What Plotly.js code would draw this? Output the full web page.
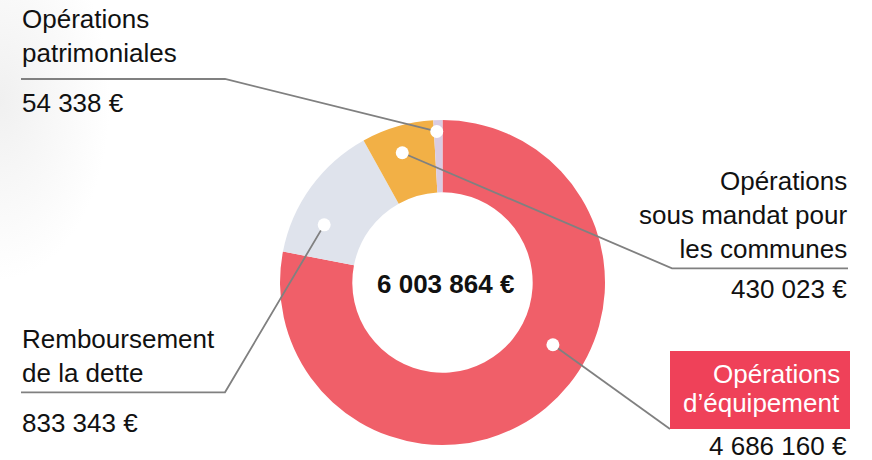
<!DOCTYPE html>
<html>
<head>
<meta charset="utf-8">
<script src="https://cdn.plot.ly/plotly-3.0.1.min.js"></script>
<style>
  html, body { margin: 0; padding: 0; background: #ffffff; }
  #chart {
    width: 872px; height: 460px;
    background: radial-gradient(ellipse 110px 180px at 0px 100px, #f0f0f0 0%, #f7f7f7 45%, rgba(255,255,255,0) 100%), #ffffff;
  }
</style>
</head>
<body>
<div id="chart"></div>
<script>
// ---------- DATA ----------
const categories = [
  "Opérations d’équipement",
  "Remboursement de la dette",
  "Opérations sous mandat pour les communes",
  "Opérations patrimoniales"
];
const values = [4686160, 833343, 430023, 54338];
const labelLines = [
  ["Opérations", "d’équipement"],
  ["Remboursement", "de la dette"],
  ["Opérations", "sous mandat pour", "les communes"],
  ["Opérations", "patrimoniales"]
];
const sliceColors = ["#F05F69", "#DFE3EC", "#F2B046", "#D9CCE3"];

// ---------- LAYOUT / STYLE ----------
const W = 872, H = 460;
const X = px => px / W;
const Y = py => 1 - py / H;
const pieBox = { x0: 280, x1: 605, y0: 120, y1: 445 };
const cx = (pieBox.x0 + pieBox.x1) / 2, cy = (pieBox.y0 + pieBox.y1) / 2;
const R = (pieBox.x1 - pieBox.x0) / 2;
const FONT = "Liberation Sans, Arial, Helvetica, sans-serif";
const LINE = "#808080";
const TXT = "#111111";

// callout geometry: where the dot sits within its slice (t along the sweep, rf of outer radius)
const callouts = [
  { t: 0.425, rf: 0.78, elbow: [670, 429], end: null, x: 841, anchor: "right",
    lineYs: [373.5, 402.8], box: [670, 351, 850, 429], valueX: 848, valueAnchor: "right", valueY: 445.5 },
  { t: 0.30, rf: 0.81, elbow: [225, 392.3], end: [21, 392.3], x: 21, anchor: "left",
    mid: 355.5, valueX: 21, valueAnchor: "left", valueY: 422.5 },
  { t: 0.458, rf: 0.836, elbow: [672, 268.3], end: [848, 268.3], x: 848, anchor: "right",
    mid: 214.6, valueX: 848, valueAnchor: "right", valueY: 289 },
  { t: 0.33, rf: 0.93, elbow: [225, 79], end: [21, 79], x: 21, anchor: "left",
    mid: 36, valueX: 21, valueAnchor: "left", valueY: 103 }
];

const fmt = v => String(v).replace(/\B(?=(\d{3})+(?!\d))/g, " ") + " €";
const total = values.reduce((a, b) => a + b, 0);

const shapes = [];
const annotations = [];
const dots = [];
let cum = 0;
values.forEach((v, i) => {
  const c = callouts[i];
  const ang = (cum + c.t * v) / total * 2 * Math.PI;
  cum += v;
  const dx = cx + c.rf * R * Math.sin(ang);
  const dy = cy - c.rf * R * Math.cos(ang);
  let path = `M ${X(dx)} ${Y(dy)} L ${X(c.elbow[0])} ${Y(c.elbow[1])}`;
  if (c.end) path += ` L ${X(c.end[0])} ${Y(c.end[1])}`;
  shapes.push({ type: "path", xref: "paper", yref: "paper", path: path,
    line: { color: LINE, width: 1.8 } });
  dots.push({ type: "circle", xref: "paper", yref: "paper",
    xsizemode: "pixel", ysizemode: "pixel", xanchor: X(dx), yanchor: Y(dy),
    x0: -6.5, x1: 6.5, y0: -6.5, y1: 6.5, fillcolor: "#ffffff", line: { width: 0 } });
  if (c.box) {
    shapes.push({ type: "rect", xref: "paper", yref: "paper",
      x0: X(c.box[0]), x1: X(c.box[2]), y0: Y(c.box[3]), y1: Y(c.box[1]),
      fillcolor: "#EF4159", line: { width: 0 } });
    labelLines[i].forEach((ln, k) => {
      annotations.push({ xref: "paper", yref: "paper", x: X(c.x), y: Y(c.lineYs[k]),
        xanchor: c.anchor, yanchor: "middle", showarrow: false, borderpad: 0,
        text: ln, font: { family: FONT, size: 26, color: "#ffffff" } });
    });
  } else {
    annotations.push({ xref: "paper", yref: "paper", x: X(c.x), y: Y(c.mid),
      xanchor: c.anchor, yanchor: "middle", align: c.anchor, showarrow: false, borderpad: 0,
      text: labelLines[i].join("<br>"), font: { family: FONT, size: 26, color: TXT } });
  }
  annotations.push({ xref: "paper", yref: "paper", x: X(c.valueX), y: Y(c.valueY),
    xanchor: c.valueAnchor, yanchor: "middle", showarrow: false, borderpad: 0,
    text: fmt(v), font: { family: FONT, size: 26, color: TXT } });
});

annotations.push({ xref: "paper", yref: "paper", x: X(445), y: Y(284.2),
  xanchor: "center", yanchor: "middle", showarrow: false, borderpad: 0,
  text: "<b>" + fmt(total) + "</b>", font: { family: FONT, size: 26, color: TXT } });

const trace = {
  type: "pie",
  labels: categories,
  values: values,
  marker: { colors: sliceColors, line: { width: 0 } },
  hole: 0.555,
  sort: false,
  direction: "clockwise",
  rotation: 0,
  textinfo: "none",
  hoverinfo: "skip",
  showlegend: false,
  domain: { x: [X(pieBox.x0), X(pieBox.x1)], y: [Y(pieBox.y1), Y(pieBox.y0)] }
};

const layout = {
  width: W, height: H,
  margin: { l: 0, r: 0, t: 0, b: 0 },
  paper_bgcolor: "rgba(0,0,0,0)",
  plot_bgcolor: "rgba(0,0,0,0)",
  showlegend: false,
  shapes: shapes.concat(dots),
  annotations: annotations
};

Plotly.newPlot("chart", [trace], layout, { displayModeBar: false, staticPlot: true });
</script>
</body>
</html>
